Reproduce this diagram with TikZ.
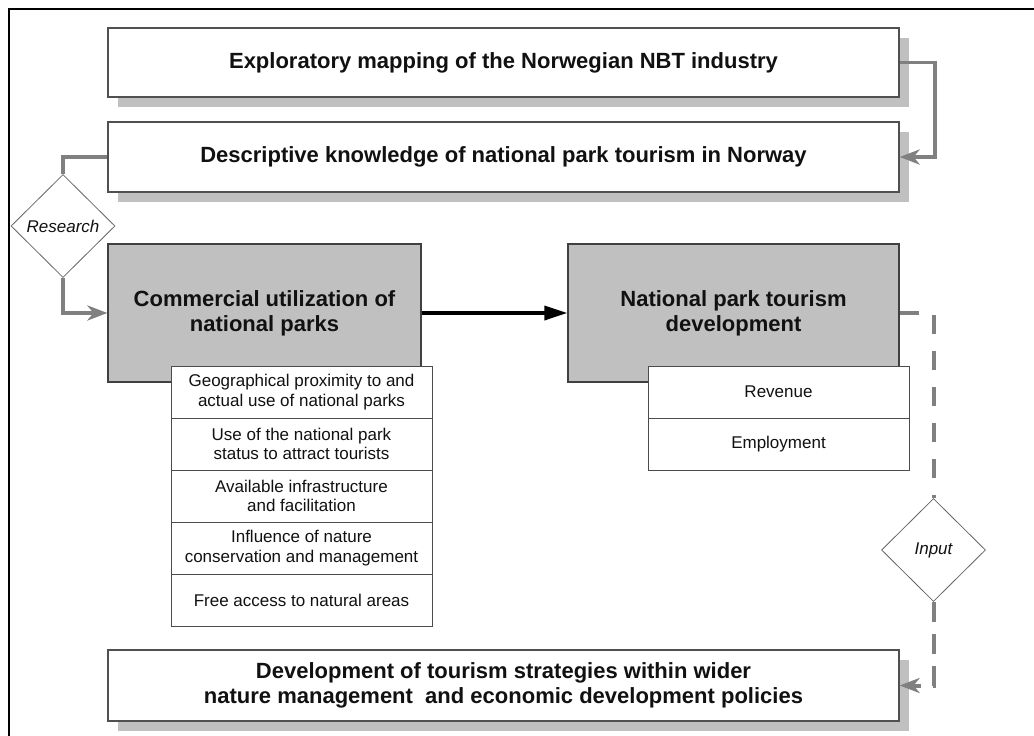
\documentclass[tikz,border=0pt]{standalone}
\usepackage{fontspec}
\setmainfont{Liberation Sans}
\usetikzlibrary{shapes.geometric,shadows,arrows.meta}
\definecolor{shadowgray}{HTML}{C0C0C0}
\definecolor{boxgray}{HTML}{C0C0C0}
\definecolor{linegray}{HTML}{808080}
\definecolor{bordergray}{HTML}{505050}
\definecolor{txt}{HTML}{111111}
\tikzset{
  bigfont/.style={font=\fontsize{22}{25}\selectfont\bfseries, text=txt},
  smallfont/.style={font=\fontsize{17}{19.5}\selectfont, text=txt},
  wbox/.style={draw=bordergray, line width=1.2pt, fill=white, inner sep=0pt, align=center, bigfont,
    drop shadow={shadow xshift=10pt, shadow yshift=-10pt, fill=shadowgray, opacity=1}},
  gbox/.style={draw=black!75, line width=1.2pt, fill=boxgray, inner sep=0pt, align=center, bigfont},
  rowbox/.style={draw=black!70, line width=1pt, fill=white, inner sep=0pt, align=center, smallfont,
    minimum width=261pt, minimum height=52pt},
  dia/.style={diamond, draw=black!60, line width=0.8pt, fill=white, inner sep=0pt, aspect=1,
    minimum width=104pt, minimum height=103pt, font=\fontsize{17}{19}\selectfont\itshape, text=txt},
  gconn/.style={draw=linegray, line width=3.5pt, -{Stealth[length=20pt,width=15pt,inset=6pt]}},
  gline/.style={draw=linegray, line width=3.5pt},
  dconn/.style={draw=linegray, line width=4pt, dash pattern=on 19pt off 17pt},
  dconnb/.style={draw=linegray, line width=4pt, dash pattern=on 20pt off 12pt,
    -{Stealth[length=20pt,width=15pt,inset=6pt]}},
  bconn/.style={draw=black, line width=3.5pt, -{Triangle[length=23pt,width=14pt]}}
}
\begin{document}
\begin{tikzpicture}[x=1pt,y=-1pt]
\useasboundingbox (0,0) rectangle (1034,736);
% frame
\draw[black, line width=2pt] (9,740) -- (9,9) -- (1040,9);

% top boxes
\node[wbox, minimum width=791pt, minimum height=69pt] (b1) at (503.5,62.5)
  {Exploratory mapping of the Norwegian NBT industry};
\node[wbox, minimum width=791pt, minimum height=70pt] (b2) at (503.5,157)
  {Descriptive knowledge of national park tourism in Norway};

% main boxes
\node[gbox, minimum width=313pt, minimum height=138pt] (b3) at (264.5,313)
  {Commercial utilization of\\national parks};
\node[gbox, minimum width=331pt, minimum height=138pt] (b4) at (733.5,313)
  {National park tourism\\development};

% sub tables
\node[rowbox] (r1) at (301.5,392) {Geographical proximity to and\\actual use of national parks};
\node[rowbox] (r2) at (301.5,444) {Use of the national park\\status to attract tourists};
\node[rowbox] (r3) at (301.5,496) {Available infrastructure\\and facilitation};
\node[rowbox] (r4) at (301.5,548) {Influence of nature\\conservation and management};
\node[rowbox] (r5) at (301.5,600) {Free access to natural areas};

\node[rowbox] (s1) at (778.5,392) {Revenue};
\node[rowbox] (s2) at (778.5,444) {Employment};

% bottom box
\node[wbox, minimum width=791pt, minimum height=71pt] (b5) at (503.5,685.5)
  {Development of tourism strategies within wider\\nature management\ \ and economic development policies};

% diamonds
\node[dia] (research) at (63,226) {Research};
\node[dia] (input) at (933.5,550) {Input};

% connectors
\coordinate (c1) at (935,62.5);
\draw[gconn] (b1.east) -- (c1) |- (b2.east);
\draw[gline] (b2.west) -| (research.north);
\draw[gconn] (research.south) |- (b3.west);
\draw[bconn] (b3.east) -- (b4.west);
\coordinate (c2) at (933.5,313);
\draw[dconn] (b4.east) -- (c2) -- (input.north);
\draw[dconnb] (input.south) |- (b5.east);
\end{tikzpicture}
\end{document}
